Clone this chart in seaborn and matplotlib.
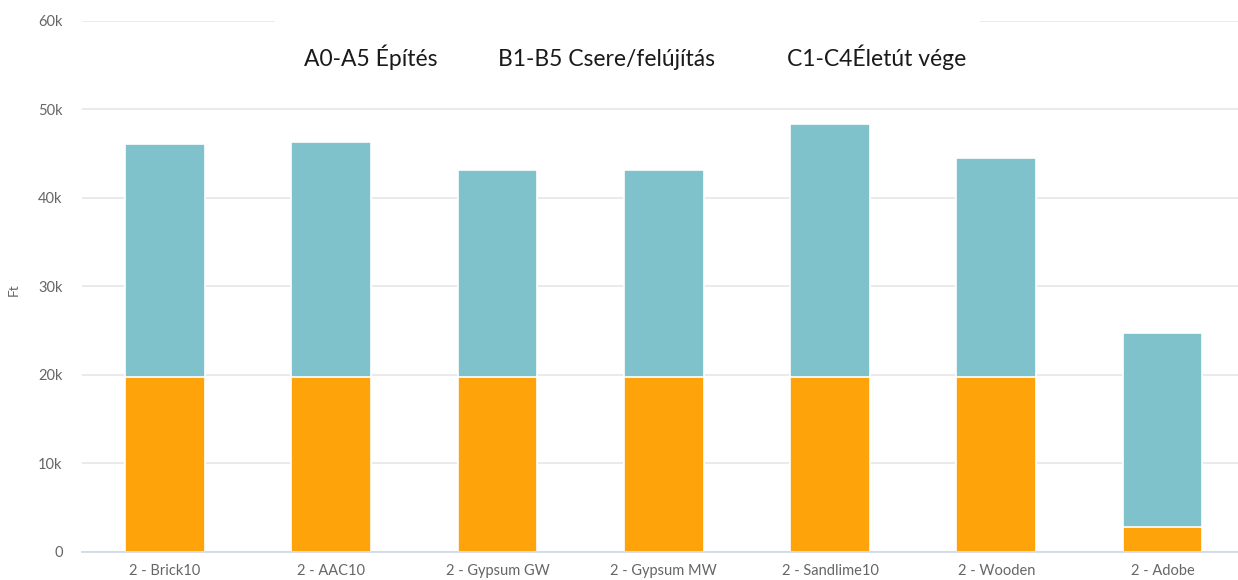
import matplotlib
matplotlib.use("Agg")
import matplotlib.pyplot as plt
import seaborn as sns
import pandas as pd
from matplotlib.patches import Rectangle

# Life-cycle cost per wall variant (Ft)
variants = ["2 - Brick10", "2 - AAC10", "2 - Gypsum GW", "2 - Gypsum MW",
            "2 - Sandlime10", "2 - Wooden", "2 - Adobe"]
construction = [19800, 19800, 19800, 19800, 19800, 19800, 2800]      # A0-A5
replacement = [26300, 26500, 23400, 23400, 28600, 24700, 21900]      # B1-B5
end_of_life = [0, 0, 0, 0, 0, 0, 0]                                  # C1-C4
y_ticks = [0, 10000, 20000, 30000, 40000, 50000, 60000]
y_tick_labels = ["0", "10k", "20k", "30k", "40k", "50k", "60k"]
legend_labels = ["A0-A5 Építés", "B1-B5 Csere/felújítás", "C1-C4Életút vége"]

ORANGE = "#ffa30a"
TEAL = "#7fc2cb"

df = pd.DataFrame({
    "variant": variants,
    "construction": construction,
    "replacement": replacement,
    "end_of_life": end_of_life,
})
df["upper"] = df["construction"] + df["replacement"] + df["end_of_life"]

sns.set_theme(style="white")
plt.rcParams["font.family"] = ["Lato", "DejaVu Sans"]

fig = plt.figure(figsize=(12.38, 5.80), dpi=100)
ax = fig.add_axes([0.0662, 0.0483, 0.9400, 0.9155])

sns.barplot(data=df, x="variant", y="upper", color=TEAL, width=0.48,
            saturation=1, edgecolor="white", linewidth=1.2, ax=ax, zorder=3)
sns.barplot(data=df, x="variant", y="construction", color=ORANGE, width=0.48,
            saturation=1, edgecolor="white", linewidth=1.2, ax=ax, zorder=4)

ax.set_ylim(0, 60000)
ax.set_xlim(-0.5, 6.5)
ax.set_yticks(y_ticks)
ax.set_yticklabels(y_tick_labels)
ax.yaxis.grid(True, color="#e6e6e6", linewidth=1.2, zorder=0)
ax.xaxis.grid(False)
for side in ["top", "right", "left"]:
    ax.spines[side].set_visible(False)
ax.spines["bottom"].set_color("#ccd6eb")
ax.spines["bottom"].set_linewidth(1.2)
ax.spines["bottom"].set_zorder(5)
ax.tick_params(axis="y", length=0, pad=14, labelsize=10.5, labelcolor="#666666")
ax.tick_params(axis="x", length=0, pad=9, labelsize=10.5, labelcolor="#666666")
for lbl in ax.get_xticklabels():
    lbl.set_fontstretch("expanded")
ax.set_xlabel("")
ax.set_ylabel("")
fig.text(14 / 1238, 1 - 290 / 580, "Ft", rotation=90, fontsize=10,
         color="#666666", ha="center", va="center")

# Legend panel laid over the top of the plot
fig.patches.append(Rectangle((275 / 1238, 1 - 100 / 580), (980 - 275) / 1238, 90 / 580,
                             transform=fig.transFigure, facecolor="white",
                             edgecolor="none", zorder=10))
for label, x in zip(legend_labels, [304, 498, 787]):
    fig.text(x / 1238, 1 - 66 / 580, label, fontsize=16.5, color="#1a1a1a",
             ha="left", va="baseline", zorder=11)

fig.savefig("out.png", dpi=100)
